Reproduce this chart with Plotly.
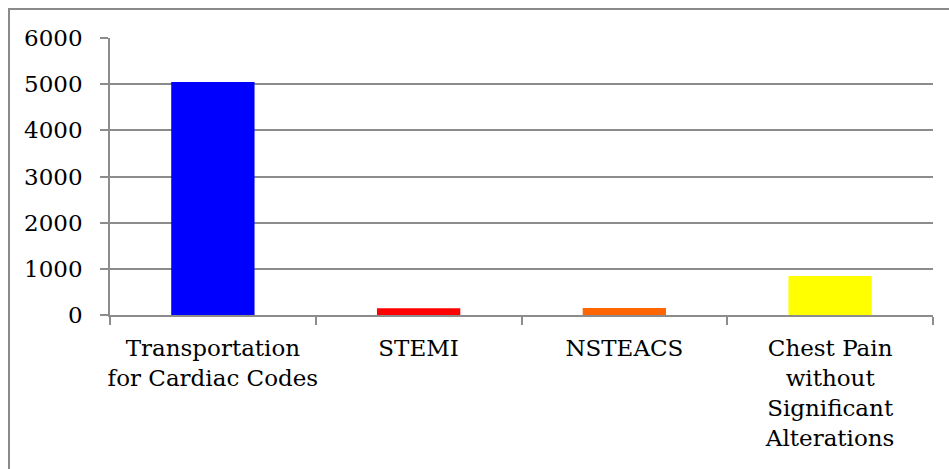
import plotly.graph_objects as go

# Category labels (line breaks as they wrap under the axis)
categories = [
    "Transportation<br>for Cardiac Codes",
    "STEMI",
    "NSTEACS",
    "Chest Pain<br>without<br>Significant<br>Alterations",
]
counts = [5045, 145, 152, 845]
bar_colors = ["#0000FF", "#FF0000", "#FF6600", "#FFFF00"]
y_ticks = [0, 1000, 2000, 3000, 4000, 5000, 6000]

W, H = 949, 469
L, R, T, B = 110, 16, 38, 154
grid = "#8c8c8c"
font = dict(family="DejaVu Serif", size=23, color="#000000")

fig = go.Figure(
    go.Bar(
        x=categories,
        y=counts,
        marker=dict(color=bar_colors, line=dict(width=0)),
        width=0.405,
        hoverinfo="skip",
    )
)

pw, ph = W - L - R, H - T - B
# Outer chart frame (open on the right and bottom edges)
fig.add_shape(
    type="rect", xref="paper", yref="paper",
    x0=(9 - L) / pw, x1=(W + 4 - L) / pw,
    y0=-(H + 4 - T - ph) / ph, y1=(ph + T - 9) / ph,
    line=dict(color="#8a8a8a", width=2), fillcolor="rgba(0,0,0,0)", layer="below",
)

fig.update_layout(
    width=W, height=H,
    margin=dict(l=L, r=R, t=T, b=B, pad=0, autoexpand=False),
    paper_bgcolor="white", plot_bgcolor="white",
    font=font, showlegend=False, bargap=0.6,
    xaxis=dict(
        type="category", tickson="boundaries", ticks="outside", ticklen=8,
        tickcolor=grid, tickwidth=1.5, showline=True, linecolor=grid, linewidth=1.5,
        showgrid=False, tickfont=font, ticklabelstandoff=12, fixedrange=True,
        tickangle=0, automargin=False,
    ),
    yaxis=dict(
        range=[0, 6000], tickvals=y_ticks, ticktext=[str(v) for v in y_ticks],
        ticks="outside", ticklen=8, tickcolor=grid, tickwidth=1.5,
        showline=True, linecolor=grid, linewidth=1.5,
        showgrid=True, gridcolor=grid, gridwidth=1.5, zeroline=False,
        tickfont=font, ticklabelstandoff=13, fixedrange=True, automargin=False,
    ),
)

fig.write_html("out.html")
